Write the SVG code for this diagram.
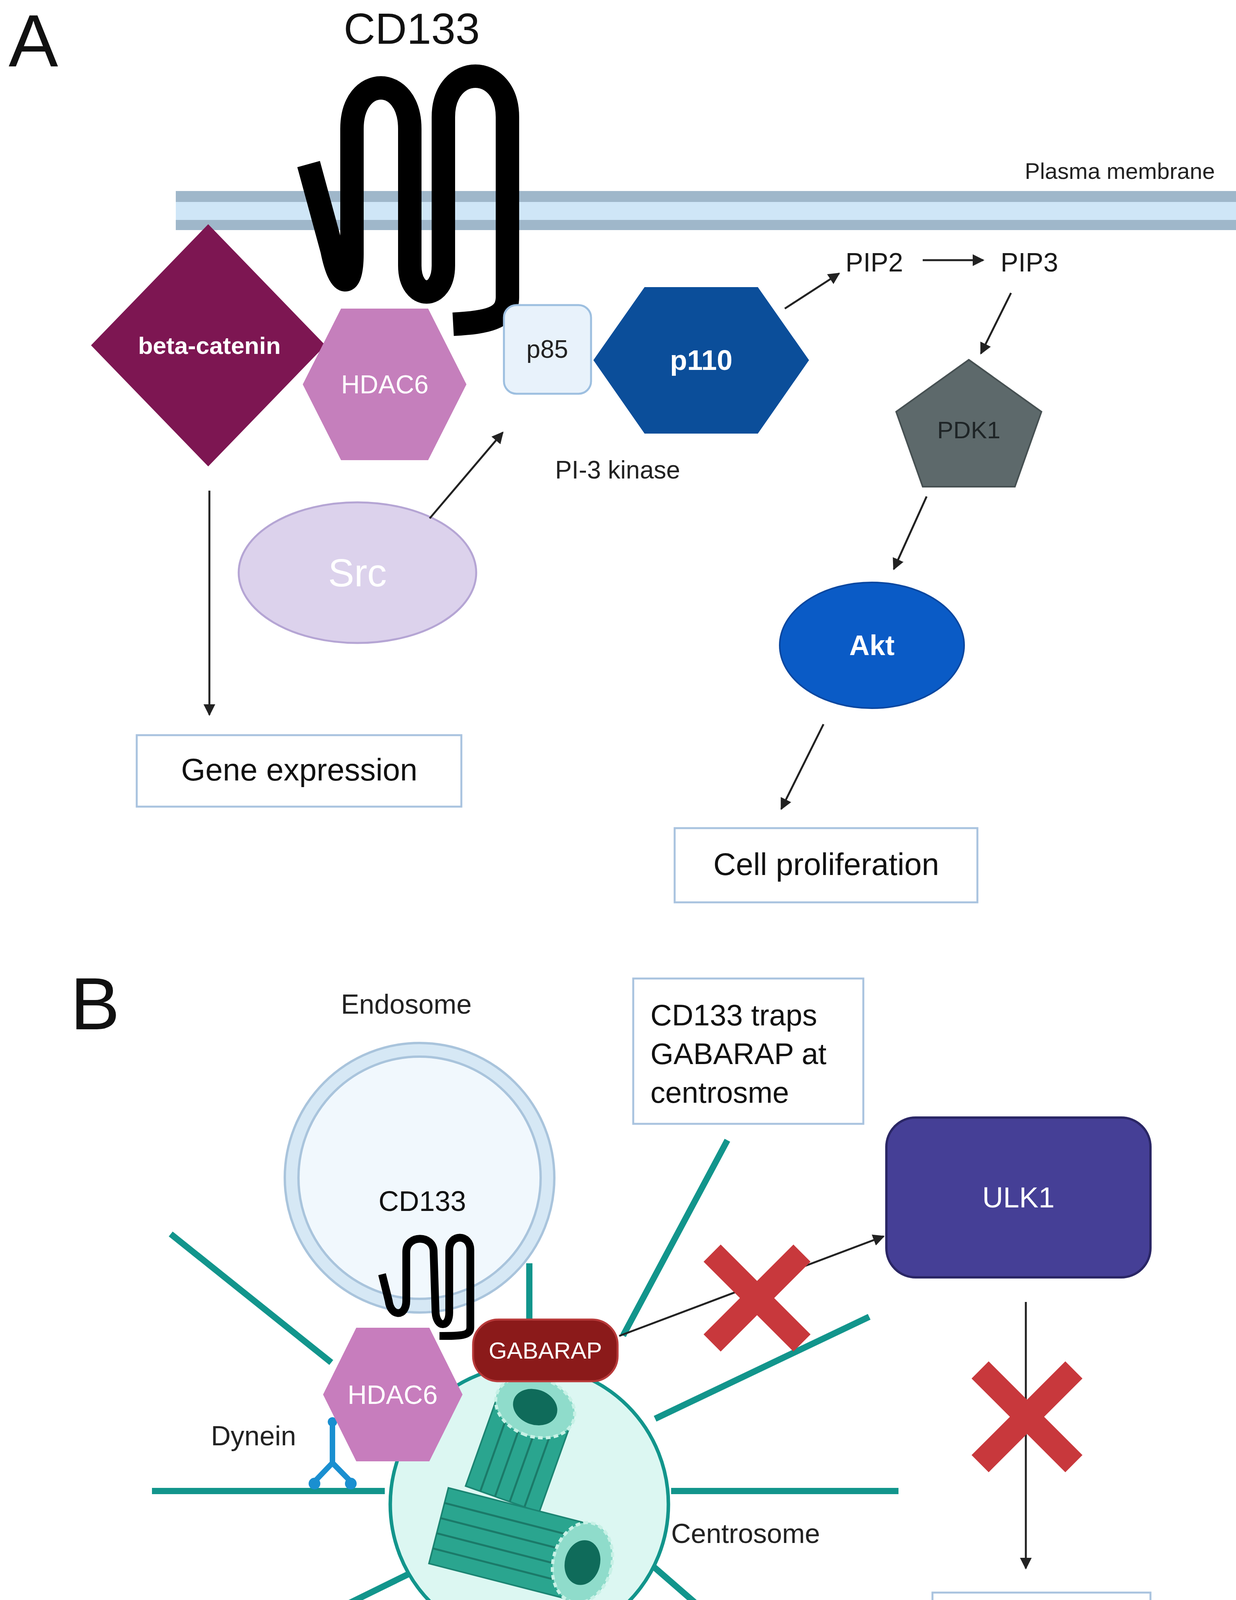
<svg xmlns="http://www.w3.org/2000/svg" width="3164" height="4888" viewBox="0 0 3164 4888">
<style>
text{font-family:"Liberation Sans",Arial,sans-serif}
.lbl{fill:#1a1a1a;font-size:68px}
.wt{fill:#ffffff;text-anchor:middle;dominant-baseline:central}
.box{fill:#ffffff;stroke:#a9c3df;stroke-width:5}
.arr{stroke:#222;stroke-width:5;fill:none;marker-end:url(#ah)}
.tl{stroke:#12958c;stroke-width:16;stroke-linecap:butt}
.x{stroke:#c8383c;stroke-width:62;stroke-linecap:butt}
</style>
<defs>
<marker id="ah" viewBox="0 0 10 10" refX="9" refY="5" markerWidth="6" markerHeight="6" orient="auto-start-reverse"><path d="M0,0 L10,5 L0,10 z" fill="#222"/></marker>
</defs>
<rect width="3164" height="4888" fill="#ffffff"/>

<!-- Panel A -->
<text x="22" y="170" font-size="190" fill="#111">A</text>
<g id="membrane">
<rect x="450" y="489" width="2714" height="100" fill="#cfe6f7"/>
<rect x="450" y="489" width="2714" height="28" fill="#9fb7ca"/>
<rect x="450" y="563" width="2714" height="26" fill="#9fb7ca"/>
<text x="3110" y="458" font-size="58" fill="#222" text-anchor="end">Plasma membrane</text>
</g>
<g id="cd133-a">
<text x="1054" y="112" font-size="112" fill="#111" text-anchor="middle">CD133</text>
<path d="M790,420 L850,640 C870,740 901,740 901,650 L901,330 C901,190 1049,190 1049,330 L1049,680 C1049,770 1135,770 1135,680 L1135,300 C1135,160 1299,160 1299,300 L1299,760 C1299,815 1250,825 1160,830" fill="none" stroke="#000" stroke-width="60" stroke-linejoin="round"/>
</g>
<g id="beta-catenin">
<polygon points="533,574 833,884 533,1194 233,884" fill="#7d1652"/>
<text x="536" y="884" class="wt" font-size="62" font-weight="bold">beta-catenin</text>
</g>
<g id="hdac6-a">
<polygon points="775,984 873,790 1096,790 1194,984 1096,1178 873,1178" fill="#c57fbc"/>
<text x="985" y="984" class="wt" font-size="66">HDAC6</text>
</g>
<g id="p85">
<rect x="1290" y="781" width="223" height="227" rx="32" fill="#e8f2fb" stroke="#9dbfe0" stroke-width="5"/>
<text x="1401" y="894" font-size="64" fill="#222" text-anchor="middle" dominant-baseline="central">p85</text>
</g>
<g id="p110">
<polygon points="1519,922 1650,735 1940,735 2071,922 1940,1110 1650,1110" fill="#0b4e9a"/>
<text x="1795" y="922" class="wt" font-size="72" font-weight="bold">p110</text>
</g>
<text x="1581" y="1225" font-size="64" fill="#222" text-anchor="middle">PI-3 kinase</text>
<g id="pip2"><text x="2238" y="695" class="lbl" text-anchor="middle">PIP2</text></g>
<g id="pip3"><text x="2635" y="695" class="lbl" text-anchor="middle">PIP3</text></g>
<g id="pdk1">
<polygon points="2480,921 2666,1054 2598,1246 2362,1246 2294,1054" fill="#5d696b" stroke="#465052" stroke-width="4"/>
<text x="2480" y="1100" font-size="62" fill="#1e2426" text-anchor="middle" dominant-baseline="central">PDK1</text>
</g>
<g id="akt">
<ellipse cx="2232" cy="1652" rx="236" ry="161" fill="#0a5bc6" stroke="#0a47a0" stroke-width="4"/>
<text x="2232" y="1652" class="wt" font-size="72" font-weight="bold" fill="#e8f4ff">Akt</text>
</g>
<g id="src">
<ellipse cx="915" cy="1466" rx="304" ry="180" fill="#dcd2ec" stroke="#b5a5d4" stroke-width="5"/>
<text x="915" y="1466" class="wt" font-size="100">Src</text>
</g>
<g id="gene-expression">
<rect x="350" y="1882" width="831" height="183" class="box"/>
<text x="766" y="1998" font-size="80" fill="#111" text-anchor="middle">Gene expression</text>
</g>
<g id="cell-proliferation">
<rect x="1727" y="2120" width="775" height="190" class="box"/>
<text x="2115" y="2240" font-size="80" fill="#111" text-anchor="middle">Cell proliferation</text>
</g>
<g id="connectors-a">
<line x1="2009" y1="790" x2="2148" y2="700" class="arr"/>
<line x1="2362" y1="666" x2="2517" y2="666" class="arr"/>
<line x1="2588" y1="750" x2="2511" y2="905" class="arr"/>
<line x1="2372" y1="1271" x2="2288" y2="1457" class="arr"/>
<line x1="2108" y1="1854" x2="2000" y2="2071" class="arr"/>
<line x1="1100" y1="1327" x2="1287" y2="1107" class="arr"/>
<line x1="536" y1="1256" x2="536" y2="1830" class="arr" stroke-width="7"/>
</g>

<!-- Panel B -->
<text x="180" y="2635" font-size="190" fill="#111">B</text>
<g id="microtubules">
<line x1="437" y1="3159" x2="848" y2="3488" class="tl"/>
<line x1="389" y1="3817" x2="985" y2="3817" class="tl"/>
<line x1="1862" y1="2919" x2="1595" y2="3419" class="tl"/>
<line x1="2225" y1="3371" x2="1677" y2="3632" class="tl"/>
<line x1="1718" y1="3817" x2="2300" y2="3817" class="tl"/>
<line x1="1670" y1="4008" x2="2293" y2="4550" class="tl"/>
<line x1="1499" y1="4166" x2="1697" y2="4652" class="tl"/>
<line x1="1355" y1="4186" x2="1355" y2="4817" class="tl"/>
<line x1="1197" y1="4159" x2="759" y2="4789" class="tl"/>
<line x1="1047" y1="4029" x2="615" y2="4241" class="tl"/>
</g>
<g id="endosome">
<text x="1040" y="2595" font-size="70" fill="#222" text-anchor="middle">Endosome</text>
<circle cx="1074" cy="3015" r="345" fill="#d6e8f5" stroke="#a9c4dc" stroke-width="6"/>
<circle cx="1074" cy="3015" r="310" fill="#f1f8fd" stroke="#a9c4dc" stroke-width="6"/>
</g>
<line x1="1355" y1="3234" x2="1355" y2="3500" class="tl"/>
<g id="centrosome">
<circle cx="1355" cy="3851" r="356" fill="#dcf7f2" stroke="#12958c" stroke-width="9"/>
<text x="1718" y="3950" font-size="70" fill="#222">Centrosome</text>
</g>
<g id="barrels">
<g transform="translate(1328,3720) rotate(109.6)">
<rect x="-125" y="-100" width="250" height="200" fill="#2aa58f" stroke="#1b8472" stroke-width="4"/>
<g stroke="#1b7a69" stroke-width="5"><line x1="-125" y1="-60" x2="125" y2="-60"/><line x1="-125" y1="-20" x2="125" y2="-20"/><line x1="-125" y1="20" x2="125" y2="20"/><line x1="-125" y1="60" x2="125" y2="60"/></g>
<ellipse cx="-125" cy="0" rx="75" ry="104" fill="#8fdccb" stroke="#c8f1e6" stroke-width="8" stroke-dasharray="12 8"/>
<ellipse cx="-125" cy="0" rx="45" ry="58" fill="#0f6b5a"/>
</g>
<g transform="translate(1307,3953) rotate(14.4)">
<rect x="-190" y="-100" width="380" height="200" fill="#2aa58f" stroke="#1b8472" stroke-width="4"/>
<g stroke="#1b7a69" stroke-width="5"><line x1="-190" y1="-60" x2="190" y2="-60"/><line x1="-190" y1="-20" x2="190" y2="-20"/><line x1="-190" y1="20" x2="190" y2="20"/><line x1="-190" y1="60" x2="190" y2="60"/></g>
<ellipse cx="190" cy="0" rx="75" ry="104" fill="#8fdccb" stroke="#c8f1e6" stroke-width="8" stroke-dasharray="12 8"/>
<ellipse cx="190" cy="0" rx="45" ry="58" fill="#0f6b5a"/>
</g>
</g>
<g id="cd133-b">
<text x="1081" y="3100" font-size="72" fill="#111" text-anchor="middle">CD133</text>
<path d="M978,3262 L995,3330 C1000,3372 1040,3372 1040,3330 L1040,3205 C1040,3160 1110,3160 1110,3205 L1115,3360 C1118,3400 1150,3400 1150,3360 L1150,3200 C1150,3158 1204,3158 1204,3200 L1204,3398 C1204,3420 1180,3420 1125,3420" fill="none" stroke="#000" stroke-width="20" stroke-linejoin="round"/>
</g>
<g id="dynein">
<text x="540" y="3700" font-size="70" fill="#222">Dynein</text>
<g stroke="#1a8fd0" stroke-width="14" fill="none" stroke-linecap="round">
<line x1="851" y1="3640" x2="851" y2="3745"/>
<path d="M851,3745 L808,3790 M851,3745 L895,3790"/>
</g>
<circle cx="851" cy="3640" r="12" fill="#1a8fd0"/>
<circle cx="805" cy="3798" r="15" fill="#1a8fd0"/>
<circle cx="898" cy="3798" r="15" fill="#1a8fd0"/>
</g>
<g id="hdac6-b">
<polygon points="827,3570 912,3399 1099,3399 1184,3570 1099,3741 912,3741" fill="#c77dbd"/>
<text x="1005" y="3570" class="wt" font-size="68">HDAC6</text>
</g>
<g id="gabarap">
<rect x="1211" y="3378" width="370" height="158" rx="65" fill="#8b1a1a" stroke="#b83a3a" stroke-width="5"/>
<text x="1396" y="3457" class="wt" font-size="60">GABARAP</text>
</g>
<g id="cd133-traps">
<rect x="1621" y="2505" width="589" height="372" class="box"/>
<text font-size="76" fill="#111"><tspan x="1665" y="2625">CD133 traps</tspan><tspan x="1665" y="2724">GABARAP at</tspan><tspan x="1665" y="2823">centrosme</tspan></text>
</g>
<g id="ulk1">
<rect x="2269" y="2861" width="676" height="409" rx="75" fill="#453f96" stroke="#2a2665" stroke-width="6"/>
<text x="2607" y="3065" class="wt" font-size="74">ULK1</text>
</g>
<g id="initiation">
<rect x="2387" y="4077" width="558" height="263" class="box"/>
<text font-size="76" fill="#111"><tspan x="2437" y="4195">Initiation of</tspan><tspan x="2437" y="4294">autophagy</tspan></text>
</g>
<g id="connectors-b">
<line x1="1585" y1="3420" x2="2262" y2="3165" class="arr"/>
<line x1="2626" y1="3333" x2="2626" y2="4015" class="arr"/>
</g>
<g id="blocks">
<path d="M1823,3208 L2053,3438 M2053,3208 L1823,3438" class="x"/>
<path d="M2509,3507 L2749,3747 M2749,3507 L2509,3747" class="x"/>
</g>
</svg>
